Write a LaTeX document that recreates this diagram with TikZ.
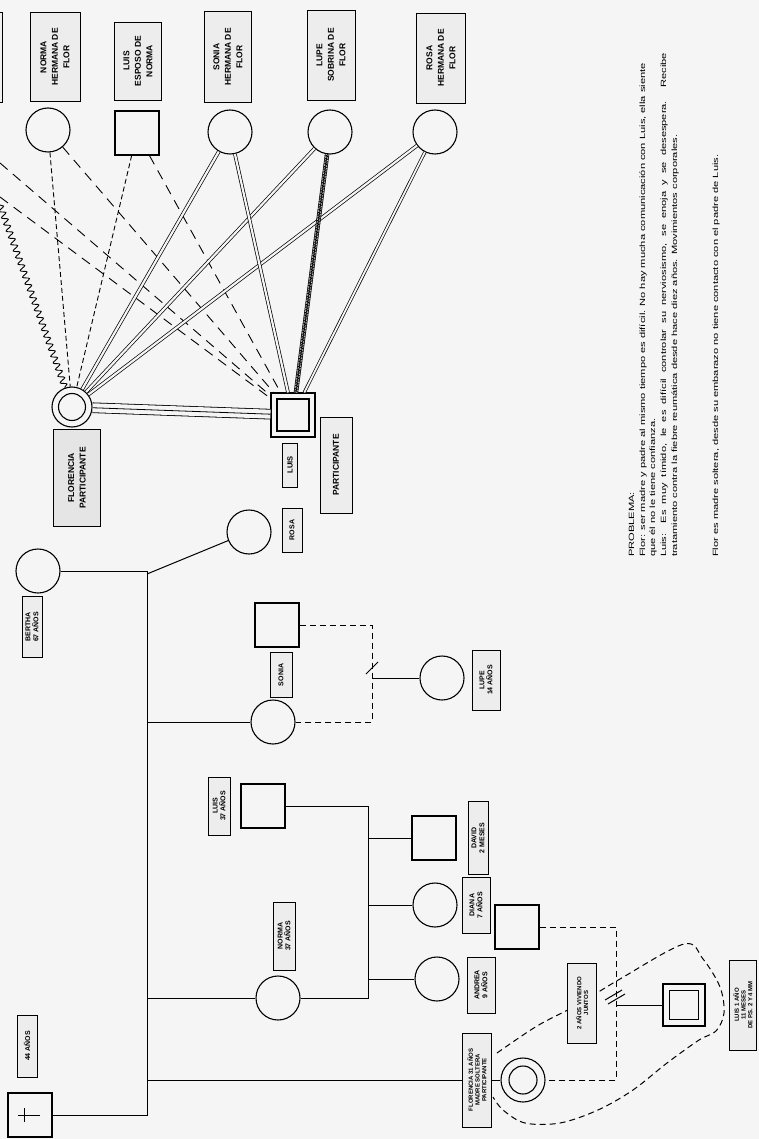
\documentclass[tikz,border=0pt]{standalone}
\usepackage{fontspec}
\setmainfont{Liberation Sans}
\usetikzlibrary{decorations.pathmorphing}
\definecolor{paper}{gray}{0.96}
\newcommand\strx[1]{\scalebox{1.46}[1]{#1}}
\begin{document}
\begin{tikzpicture}[x=1pt,y=-1pt,
  fem/.style={circle,draw,line width=1.1pt,minimum size=44pt,inner sep=0pt,fill=paper},
  mal/.style={rectangle,draw,line width=1.1pt,minimum size=44pt,inner sep=0pt,fill=paper},
  inner/.style={draw,line width=1.1pt,inner sep=0pt},
  lbl/.style={draw,line width=0.7pt,fill=gray!14,rotate=90,align=center,inner sep=1pt,
    font=\bfseries\fontsize{7}{7.8}\selectfont},
  big/.style={lbl,font=\bfseries\fontsize{8.5}{11.5}\selectfont},
  tiny/.style={lbl,font=\bfseries\fontsize{6}{6.8}\selectfont},
  rel/.style={line width=1pt},
  dbl/.style={double=paper,double distance=2.2pt,line width=0.7pt},
  dsh/.style={line width=0.9pt,dash pattern=on 5pt off 3pt},
  ldsh/.style={line width=0.9pt,dash pattern=on 10pt off 7pt},
  hdsh/.style={line width=1pt,dash pattern=on 6pt off 4pt},
  txt/.style={rotate=90,anchor=base west,inner sep=0pt,font=\fontsize{7.6}{9}\selectfont}]
\fill[paper] (0,0) rectangle (759,1139);
\useasboundingbox (0,0) rectangle (759,1139);
\clip (0,0) rectangle (759,1139);

% fragment of an off-picture label
\draw[line width=0.8pt,fill=gray!12] (-30,12) rectangle (2,102);

% ---------- top relatives ----------
\node[fem] (normaT) at (48,130) {};
\node[mal] (luisT) at (137,133) {};
\node[fem] (soniaT) at (230,132) {};
\node[fem] (lupeT) at (330,132) {};
\node[fem] (rosaT) at (435,132) {};

% ---------- participants ----------
\node[fem,minimum size=40pt] (flor) at (72,407) {};
\node[inner,circle,minimum size=27pt] (flori) at (flor) {};
\node[mal] (luisP) at (293,415) {};
\node[inner,rectangle,minimum size=32pt] (luisPi) at (luisP) {};

\coordinate (offA) at (0,163);
\coordinate (offB) at (0,197);
\coordinate (offW) at (0,205);

% relationship lines
\draw[dsh] (normaT) -- (flor);
\draw[dsh] (luisT) -- (flor);
\draw[ldsh] (normaT) -- (luisP);
\draw[ldsh] (luisT) -- (luisP);
\draw[ldsh] (offA) -- (luisP);
\draw[ldsh] (offB) -- (luisP);
\draw[line width=0.9pt,decorate,decoration={snake,amplitude=3pt,segment length=7pt}] (offW) -- (flor);
\draw[dbl] (soniaT) -- (flor);
\draw[dbl] (lupeT) -- (flor);
\draw[dbl] (rosaT) -- (flor);
\draw[dbl] (soniaT) -- (luisP);
\draw[dbl,double distance=3pt] (lupeT) -- (luisP);
\draw[line width=0.5pt,decorate,decoration={zigzag,amplitude=1.4pt,segment length=1.6pt}] (lupeT) -- (luisP);
\draw[dbl,double distance=1.8pt] (rosaT) -- (luisP);
\draw[line width=0.8pt,double=paper,double distance=9pt] (flor) -- (luisP);
\draw[line width=0.8pt] (flor) -- (luisP);

% ---------- family of origin ----------
\node[fem] (mother) at (38,571) {};
\node[mal] (father) at (30,1115) {};
\draw[line width=1pt] (father.center) ++(-12,0) -- ++(22,0);
\draw[line width=1pt] (father.center) ++(-6,-7) -- ++(0,14);
\coordinate (mv) at (147,571);
\coordinate (fv) at (147,1115);
\draw[rel] (mother) -- (mv) -- (fv) -- (father);

\node[fem] (rosaF) at (249,532) {};
\coordinate (rj) at (147,574);
\draw[rel] (rj) -- (rosaF);
\node[fem] (soniaF) at (273,722) {};
\draw[rel] (soniaF -| mv) -- (soniaF);
\node[fem] (normaF) at (278,998) {};
\draw[rel] (normaF -| mv) -- (normaF);
\node[fem] (florF) at (523,1080) {};
\node[inner,circle,minimum size=28pt] (florFi) at (florF) {};
\draw[rel] (florF -| mv) -- (florF);

% Sonia's family
\node[mal] (soniaH) at (277,625) {};
\coordinate (sv1) at (372,625);
\coordinate (sv2) at (372,722);
\draw[hdsh] (soniaH) -- (sv1) -- (sv2) -- (soniaF);
\node[fem] (lupeF) at (442,678) {};
\draw[rel] (lupeF -| sv1) -- (lupeF);
\coordinate (ss) at (372,668);
\draw[rel] (ss) ++(-6,6) -- ++(12,-12);

% Norma's family
\node[mal] (luis37) at (263,806) {};
\coordinate (nv1) at (368,806);
\coordinate (nv2) at (368,998);
\draw[rel] (luis37) -- (nv1) -- (nv2) -- (normaF);
\node[mal] (david) at (434,838) {};
\node[fem] (diana) at (435,905) {};
\node[fem] (andrea) at (437,979) {};
\draw[rel] (david -| nv1) -- (david);
\draw[rel] (diana -| nv1) -- (diana);
\draw[rel] (andrea -| nv1) -- (andrea);

% Florencia's union
\node[mal] (partner) at (517,927) {};
\coordinate (pv1) at (616,927);
\coordinate (pv2) at (616,1080);
\draw[hdsh] (partner) -- (pv1) -- (pv2) -- (florF);
\node[mal,minimum size=42pt] (child) at (684,1005) {};
\node[inner,rectangle,minimum size=29pt] (childi) at (child) {};
\draw[rel] (child -| pv1) -- (child);
\coordinate (ps) at (614,994);
\draw[rel] (ps) ++(-9,6) -- ++(17,-10);
\draw[rel] (ps) ++(-6,10) -- ++(17,-10);

% household
\draw[hdsh] plot[smooth,tension=0.55] coordinates {(497,1053) (537,1026) (577,1005) (620,979) (684,944) (703,959) (720,987) (724,1013) (716,1031) (699,1040) (667,1063) (633,1090) (598,1110) (560,1123) (525,1123) (503,1110) (493,1097)};

% ---------- labels ----------
\node[big,minimum width=89pt,minimum height=50pt] (lnormaT) at (55,57) {NORMA\\HERMANA DE\\FLOR};
\node[big,minimum width=78pt,minimum height=47pt] (lluisT) at (138,61) {LUIS\\ESPOSO DE\\NORMA};
\node[big,minimum width=91pt,minimum height=47pt] (lsoniaT) at (228,57) {SONIA\\HERMANA DE\\FLOR};
\node[big,minimum width=90pt,minimum height=48pt] (llupeT) at (331,55) {LUPE\\SOBRINA DE\\FLOR};
\node[big,minimum width=90pt,minimum height=49pt] (lrosaT) at (441,58) {ROSA\\HERMANA DE\\FLOR};

\node[big,fill=gray!20,minimum width=97pt,minimum height=47pt] (lflorP) at (77,478) {FLORENCIA\\PARTICIPANTE};
\node[lbl,font=\bfseries\fontsize{7.5}{8}\selectfont,minimum width=44pt,minimum height=15pt] (lluisP) at (290,465) {LUIS};
\node[big,minimum width=96pt,minimum height=32pt] (lpart) at (336,465) {PARTICIPANTE};

\node[lbl,minimum width=44pt,minimum height=20pt] (lrosaF) at (292,530) {ROSA};
\node[lbl,minimum width=61pt,minimum height=20pt] (lmother) at (32,627) {BERTHA\\67 AÑOS};
\node[lbl,minimum width=45pt,minimum height=22pt] (lsoniaF) at (281,675) {SONIA};
\node[lbl,minimum width=60pt,minimum height=28pt] (llupeF) at (486,680) {LUPE\\14 AÑOS};
\node[lbl,minimum width=58pt,minimum height=22pt] (lluis37) at (219,806) {LUIS\\37 AÑOS};
\node[lbl,minimum width=68pt,minimum height=22pt] (lnormaF) at (284,936) {NORMA\\37 AÑOS};
\node[lbl,minimum width=73pt,minimum height=20pt] (ldavid) at (478,838) {DAVID\\2 MESES};
\node[lbl,minimum width=56pt,minimum height=28pt] (ldiana) at (476,905) {DIANA\\7 AÑOS};
\node[lbl,minimum width=56pt,minimum height=28pt] (landrea) at (481,985) {ANDREA\\9 AÑOS};
\node[tiny,minimum width=94pt,minimum height=29pt] (lflorF) at (477,1080) {FLORENCIA 31 AÑOS\\MADRE SOLTERA\\PARTICIPANTE};
\node[tiny,minimum width=80pt,minimum height=29pt] (ljuntos) at (582,1003) {2 AÑOS VIVIENDO\\JUNTOS};
\node[tiny,minimum width=90pt,minimum height=27pt] (lchild) at (743,1005) {LUIS 1 AÑO\\11 MESES\\DE P.S. 2 Y 4 MM};
\node[lbl,minimum width=62pt,minimum height=20pt] (lfather) at (27,1046) {44 AÑOS};

% ---------- text ----------
\node[txt] (t1) at (634,557) {\strx{PROBLEMA:}};
\node[txt] (t2) at (645,557) {\strx{Flor: ser madre y padre al mismo tiempo es difícil. No hay mucha comunicación con Luis, ella siente}};
\node[txt] (t3) at (655,557) {\strx{que él no le tiene confianza.}};
\node[txt] (t4) at (666,557) {\strx{\makebox[345pt][s]{Luis: Es muy tímido, le es difícil controlar su nerviosismo, se enoja y se desespera. Recibe}}};
\node[txt] (t5) at (677,557) {\strx{tratamiento contra la fiebre reumática desde hace diez años. Movimientos corporales.}};
\node[txt] (t6) at (718,557) {\strx{Flor es madre soltera, desde su embarazo no tiene contacto con el padre de Luis.}};
\end{tikzpicture}
\end{document}
